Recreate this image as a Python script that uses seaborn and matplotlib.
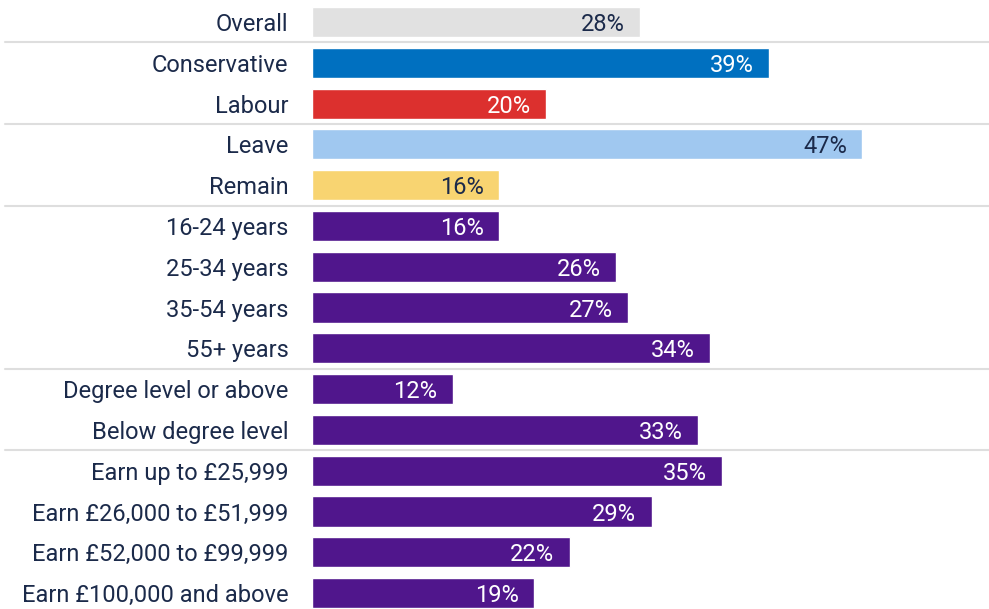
import matplotlib
matplotlib.use("Agg")
import matplotlib.pyplot as plt
import seaborn as sns
import pandas as pd

categories = ["Overall", "Conservative", "Labour", "Leave", "Remain",
              "16-24 years", "25-34 years", "35-54 years", "55+ years",
              "Degree level or above", "Below degree level",
              "Earn up to £25,999", "Earn £26,000 to £51,999",
              "Earn £52,000 to £99,999", "Earn £100,000 and above"]
values = [28, 39, 20, 47, 16, 16, 26, 27, 34, 12, 33, 35, 29, 22, 19]
bar_colors = ["#e1e1e1", "#0070c0", "#dc302e", "#a0c8f0", "#f8d471"] + ["#50168c"] * 10
label_colors = ["#1b2a4a", "white", "white", "#1b2a4a", "#1b2a4a"] + ["white"] * 10
separators_after = [0, 2, 4, 8, 10]

navy = "#1b2a4a"
sns.set_style("white")
plt.rcParams["font.family"] = ["Roboto", "DejaVu Sans"]

df = pd.DataFrame({"group": categories, "pct": values})

fig = plt.figure(figsize=(9.89, 6.09), dpi=100)
ax = fig.add_axes([312 / 989, 0, 1 - 312 / 989, 1])
sns.barplot(data=df, y="group", x="pct", hue="group", palette=bar_colors,
            orient="h", width=0.74, legend=False, ax=ax, saturation=1)

ax.set_xlim(0, 677 / 11.71)
ax.set_ylim(14.39, -0.54)
ax.set_xlabel("")
ax.set_ylabel("")
ax.set_xticks([])
for s in ax.spines.values():
    s.set_visible(False)
ax.tick_params(axis="y", length=0, pad=17, labelsize=17, labelcolor=navy)

for i, (v, c) in enumerate(zip(values, label_colors)):
    ax.text(v - 1.3, i, f"{v}%", ha="right", va="center_baseline", fontsize=17, color=c)

for i in separators_after:
    ax.axhline(i + 0.5, xmin=-307 / 677, xmax=1, color="#dedede", lw=1.5, clip_on=False)

fig.savefig("out.png", dpi=100)
